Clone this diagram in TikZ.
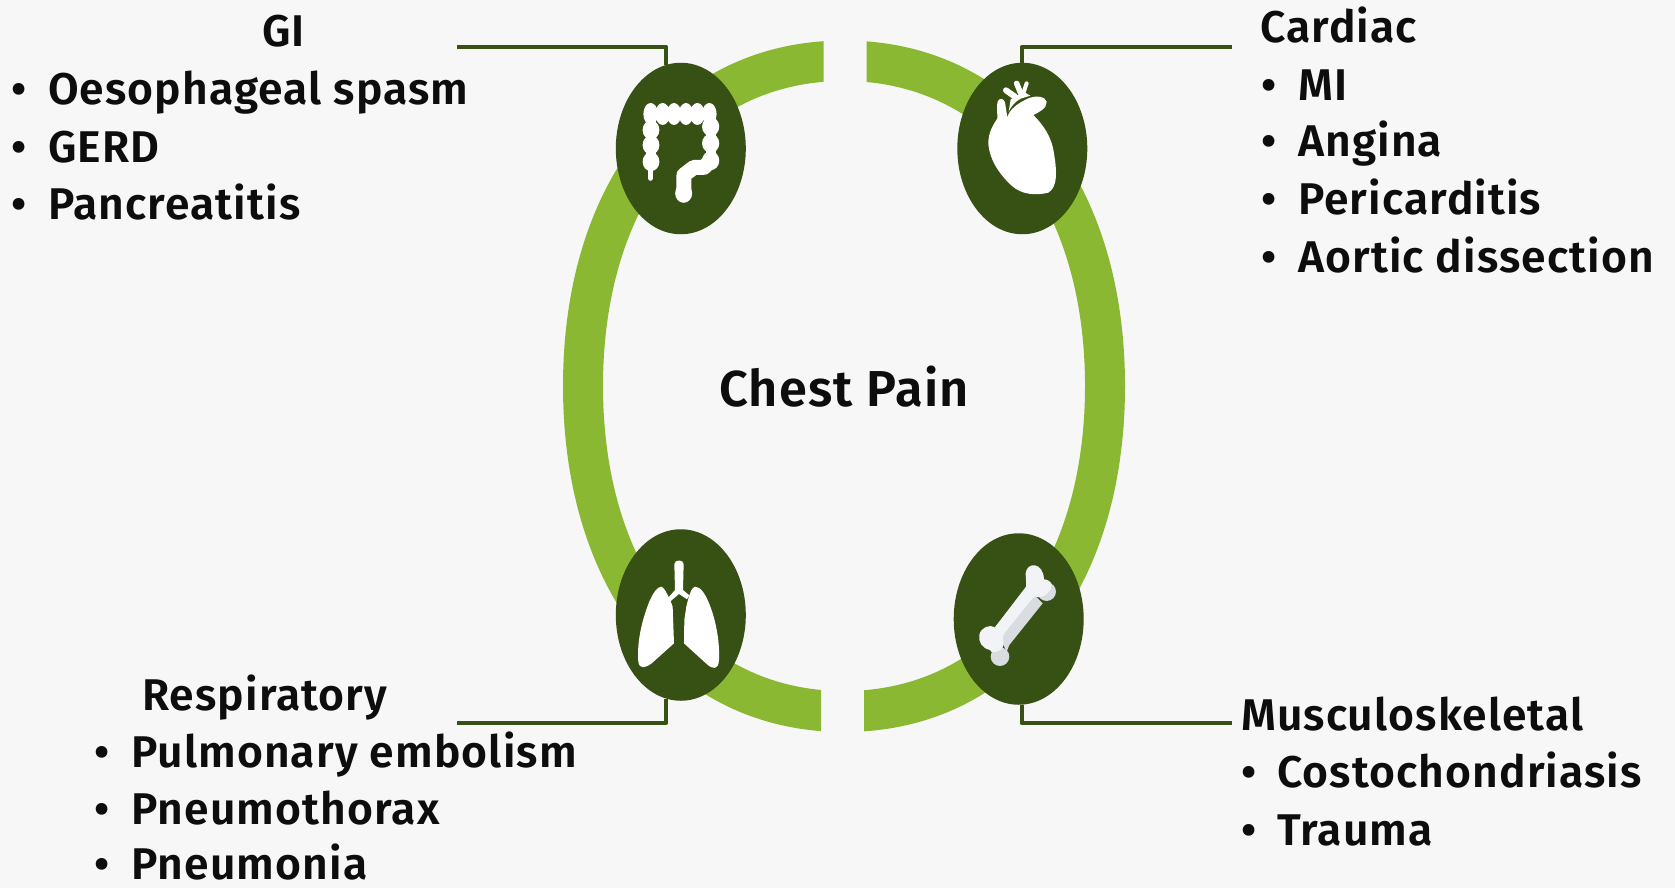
\documentclass[tikz,border=0pt]{standalone}
\usepackage{fontspec}
\setmainfont{Fira Sans SemiBold}[LetterSpace=2.5]
\usetikzlibrary{shapes.geometric}
\definecolor{bgc}{HTML}{F7F7F7}
\definecolor{ringc}{HTML}{8BB833}
\definecolor{darkc}{HTML}{375014}
\definecolor{txtc}{HTML}{0D0D0D}
\definecolor{bonea}{HTML}{F1F3F6}
\definecolor{boneb}{HTML}{D9DDE1}
\tikzset{
  oval/.style={ellipse,fill=darkc,draw=none,minimum width=130pt,minimum height=171.5pt,inner sep=0pt,outer sep=0pt},
  lead/.style={draw=darkc,line width=4pt,line join=round},
  lbl/.style={anchor=base west,inner sep=0pt,text=txtc,font=\fontsize{44.4}{44.4}\selectfont},
  bul/.style={anchor=base west,inner sep=0pt,text=txtc,font=\fontsize{44.4}{44.4}\selectfont},
  title/.style={anchor=base,inner sep=0pt,text=txtc,font=\fontsize{50.5}{50.5}\selectfont},
  icon/.style={fill=white,draw=none},
  iconscope/.style={x=0.3333pt,y=-0.3333pt},
}
\newcommand{\ringpath}{(563,386) .. controls (563,179) and (675.4,40.5) .. (844,40.5) .. controls (1012.6,40.5) and (1125,179) .. (1125,386) .. controls (1125,593) and (1012.6,732) .. (844,732) .. controls (675.4,732) and (563,593) .. (563,386) -- cycle
(603,386) .. controls (603,203.3) and (699.4,81) .. (844,81) .. controls (988.6,81) and (1085,203.3) .. (1085,386) .. controls (1085,568.7) and (988.6,691) .. (844,691) .. controls (699.4,691) and (603,568.7) .. (603,386) -- cycle}
\begin{document}
\begin{tikzpicture}[x=1pt,y=-1pt]
\path[use as bounding box,fill=bgc] (0,0) rectangle (1675,888);
% ring
\begin{scope}\clip (500,0) rectangle (823.5,386);\fill[ringc,even odd rule] \ringpath;\end{scope}
\begin{scope}\clip (866.5,0) rectangle (1200,386);\fill[ringc,even odd rule] \ringpath;\end{scope}
\begin{scope}\clip (500,386) rectangle (821,800);\fill[ringc,even odd rule] \ringpath;\end{scope}
\begin{scope}\clip (864,386) rectangle (1200,800);\fill[ringc,even odd rule] \ringpath;\end{scope}
% ovals
\node[oval] (gi) at (680.8,148.5) {};
\node[oval] (card) at (1022.3,148.5) {};
\node[oval] (resp) at (680.8,615) {};
\node[oval] (musc) at (1018.7,619) {};
% connectors
\coordinate (gie) at (457,46.7);
\coordinate (carde) at (1231.6,46.7);
\coordinate (respe) at (457,723);
\coordinate (musce) at (1231.6,723);
\draw[lead] (gie) -| (gi.100);
\draw[lead] (carde) -| (card.north);
\draw[lead] (respe) -| (resp.260);
\draw[lead] (musce) -| (musc.272.4);
% colon
\begin{scope}[shift={(590,30)},iconscope]
\foreach \x in {182,218,252,288,322,358}{\fill[icon] (\x,252) ellipse [x radius=7.3pt,y radius=11pt];}
\foreach \y in {300,345,395}{\fill[icon] (183,\y) ellipse [x radius=8.4pt,y radius=9.5pt];}
\foreach \y in {290,340,392}{\fill[icon] (362,\y) ellipse [x radius=8.6pt,y radius=9.5pt];}
\fill[icon] (185,235) rectangle (355,270);
\fill[icon] (168,245) rectangle (198,400);
\fill[icon] (347,245) rectangle (377,395);
\draw[white,line width=15pt,line join=round] (362,392) -- (342,412) -- (312,412) -- (282,435) -- (281,490);
\fill[icon] (281,490) ellipse [x radius=8.5pt,y radius=9.5pt];
\draw[white,line width=5pt,line cap=round] (181,405) -- (181,445);
\end{scope}
% heart
\begin{scope}[shift={(850,30)},iconscope]
\fill[icon] (472,262) .. controls (478,240) and (500,220) .. (540,203)
 .. controls (560,197) and (585,198) .. (590,215)
 .. controls (592,235) and (565,248) .. (550,255)
 .. controls (580,285) and (605,320) .. (612,370)
 .. controls (620,420) and (625,470) .. (595,488)
 .. controls (560,497) and (515,495) .. (485,467)
 .. controls (450,435) and (418,390) .. (415,340)
 .. controls (415,305) and (430,285) .. (442,265)
 .. controls (442,245) and (440,225) .. (443,215)
 .. controls (447,202) and (462,205) .. (465,217)
 .. controls (468,235) and (470,250) .. (472,262) -- cycle;
\fill[icon] (476,245) -- (482,208) -- (520,185) -- (541,197) -- (512,206) .. controls (495,215) and (483,230) .. (476,245) -- cycle;
\draw[white,line width=6pt,line cap=round] (468,181) -- (495,200);
\draw[white,line width=5.5pt,line cap=round] (500,160) -- (512,190);
\draw[white,line width=4pt,line cap=round] (530,160) -- (520,190);
\end{scope}
% lungs
\begin{scope}[shift={(590,510)},iconscope]
\fill[icon] (253,162) .. controls (253,148) and (281,148) .. (281,162) -- (279,240) -- (298,256) -- (291,268) -- (267,252) -- (241,274) -- (236,262) -- (255,240) -- cycle;
\fill[icon] (215,230) .. controls (225,235) and (232,255) .. (240,268)
 -- (248,290) -- (252,400) -- (185,460)
 .. controls (165,475) and (148,478) .. (145,455)
 .. controls (140,400) and (155,330) .. (180,270)
 .. controls (190,250) and (200,230) .. (215,230) -- cycle;
\fill[icon] (315,230) .. controls (305,233) and (300,250) .. (296,262)
 -- (289,290) -- (283,330) -- (282,400) -- (350,462)
 .. controls (368,478) and (385,482) .. (387,450)
 .. controls (390,390) and (375,320) .. (355,275)
 .. controls (345,250) and (330,230) .. (315,230) -- cycle;
\end{scope}
% bone
\begin{scope}[shift={(850,510)},iconscope]
\fill[boneb] (590,245) circle [radius=9.3pt];
\fill[boneb] (450,440) circle [radius=9.3pt];
\fill[boneb] (528,230) -- (578,280) -- (478,405) -- (470,425) -- (435,352) -- cycle;
\fill[bonea] (527,190) .. controls (530,155) and (580,155) .. (582,208)
 .. controls (592,208) and (605,215) .. (605,225)
 .. controls (603,245) and (585,262) .. (565,262)
 .. controls (558,258) and (553,258) .. (548,264)
 -- (466,366) .. controls (458,378) and (458,385) .. (460,395)
 .. controls (462,405) and (460,420) .. (440,425)
 .. controls (425,428) and (420,425) .. (420,420)
 .. controls (395,415) and (385,395) .. (388,375)
 .. controls (392,352) and (420,342) .. (435,352)
 -- (528,232) .. controls (530,220) and (527,205) .. (527,190) -- cycle;
\end{scope}
% texts
\node[title] (chest) at (844,406) {Chest Pain};
\node[lbl] (gil) at (262,47) {GI};
\node[bul] (b1) at (11,104.7) {•}; \node[lbl] (t1) at (48,104.7) {Oesophageal spasm};
\node[bul] (b2) at (11,162.3) {•}; \node[lbl] (t2) at (48,162.3) {GERD};
\node[bul] (b3) at (11,219) {•}; \node[lbl] (t3) at (48,219) {Pancreatitis};
\node[lbl] (cl) at (1260,43) {Cardiac};
\node[bul] (b4) at (1261,100.4) {•}; \node[lbl] (t4) at (1298,100.4) {MI};
\node[bul] (b5) at (1261,157) {•}; \node[lbl] (t5) at (1298,157) {Angina};
\node[bul] (b6) at (1261,214.7) {•}; \node[lbl] (t6) at (1298,214.7) {Pericarditis};
\node[bul] (b7) at (1261,272) {•}; \node[lbl] (t7) at (1298,272) {Aortic dissection};
\node[lbl] (rl) at (142,710) {Respiratory};
\node[bul] (b8) at (94,767) {•}; \node[lbl] (t8) at (131,767) {Pulmonary embolism};
\node[bul] (b9) at (94,824.5) {•}; \node[lbl] (t9) at (131,824.5) {Pneumothorax};
\node[bul] (b10) at (94,879) {•}; \node[lbl] (t10) at (131,879) {Pneumonia};
\node[lbl] (ml) at (1241,730.5) {Musculoskeletal};
\node[bul] (b11) at (1241,787) {•}; \node[lbl] (t11) at (1277,787) {Costochondriasis};
\node[bul] (b12) at (1241,845) {•}; \node[lbl] (t12) at (1277,845) {Trauma};
\end{tikzpicture}
\end{document}
